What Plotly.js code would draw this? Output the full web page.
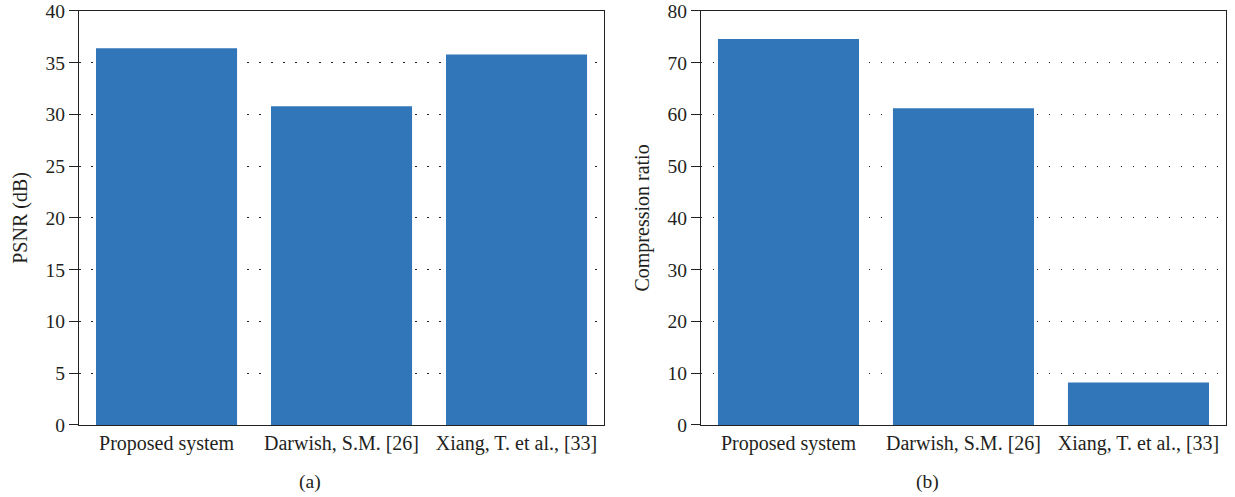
<!DOCTYPE html>
<html>
<head>
<meta charset="utf-8">
<script src="https://cdn.plot.ly/plotly-3.0.1.min.js"></script>
<style>html,body{margin:0;padding:0;background:#fff;}#chart{width:1235px;height:497px;}</style>
</head>
<body>
<div id="chart"></div>
<script>
const categories = ["Proposed system", "Darwish, S.M. [26]", "Xiang, T. et al., [33]"];
const psnrValues = [36.4, 30.8, 35.8];
const compressionValues = [74.6, 61.2, 8.2];
const psnrTicks = [0, 5, 10, 15, 20, 25, 30, 35, 40];
const crTicks = [0, 10, 20, 30, 40, 50, 60, 70, 80];

const barColor = "#3176b8";
const fontFam = "'Liberation Serif', 'Times New Roman', serif";
const txtColor = "#231f20";

const traces = [
  {type: "bar", x: categories, y: psnrValues, xaxis: "x", yaxis: "y",
   marker: {color: barColor, line: {width: 0}}, hoverinfo: "x+y", showlegend: false},
  {type: "bar", x: categories, y: compressionValues, xaxis: "x2", yaxis: "y2",
   marker: {color: barColor, line: {width: 0}}, hoverinfo: "x+y", showlegend: false}
];

function yax(ticks, title, anchor) {
  return {
    anchor: anchor,
    range: [ticks[0], ticks[ticks.length - 1]],
    tickvals: ticks,
    ticktext: ticks.map(String),
    ticks: "outside", ticklen: 9, tickwidth: 1, tickcolor: "#222",
    showline: true, mirror: true, linecolor: "#222", linewidth: 1.2,
    showgrid: true, gridcolor: "#222", gridwidth: 1, griddash: "1.5px,10.5px",
    zeroline: false,
    tickfont: {family: fontFam, size: 19.5, color: txtColor},
    title: {text: title, font: {family: fontFam, size: 20, color: txtColor}, standoff: 12},
    domain: [0.145, 0.978],
    fixedrange: true
  };
}
function xax(domain, anchor) {
  return {
    anchor: anchor, domain: domain,
    showline: true, mirror: true, linecolor: "#222", linewidth: 1.2,
    ticks: "", showgrid: false, zeroline: false,
    tickfont: {family: fontFam, size: 20, color: txtColor},
    fixedrange: true
  };
}

const layout = {
  width: 1235, height: 497,
  margin: {l: 0, r: 0, t: 0, b: 0},
  paper_bgcolor: "#fff", plot_bgcolor: "#fff",
  bargap: 0.194,
  font: {family: fontFam, color: txtColor},
  xaxis: xax([0.0640, 0.4891], "y"),
  yaxis: yax(psnrTicks, "PSNR (dB)", "x"),
  xaxis2: xax([0.5676, 0.9927], "y2"),
  yaxis2: yax(crTicks, "Compression ratio", "x2"),
  annotations: [
    {text: "(a)", xref: "paper", yref: "paper", x: 0.251, y: 0.03, xanchor: "center", yanchor: "middle",
     showarrow: false, font: {family: fontFam, size: 19.5, color: txtColor}},
    {text: "(b)", xref: "paper", yref: "paper", x: 0.7514, y: 0.03, xanchor: "center", yanchor: "middle",
     showarrow: false, font: {family: fontFam, size: 19.5, color: txtColor}}
  ]
};

Plotly.newPlot("chart", traces, layout, {displayModeBar: false, staticPlot: true});
</script>
</body>
</html>
